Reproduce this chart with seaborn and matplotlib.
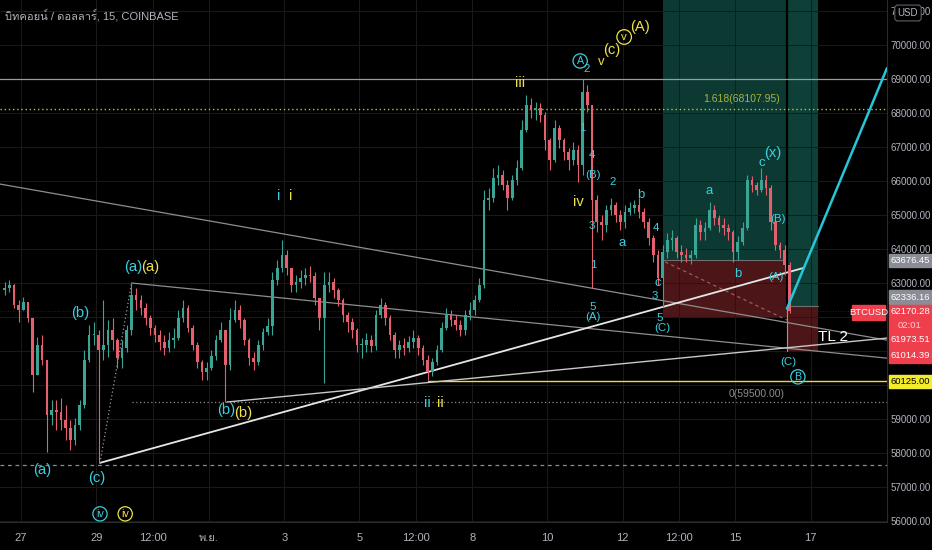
import numpy as np
import pandas as pd
import seaborn as sns
import matplotlib
matplotlib.use("Agg")
import matplotlib.pyplot as plt
from matplotlib import font_manager
from matplotlib.ft2font import FT2Font
from matplotlib.patches import Rectangle

# BTCUSD (Coinbase), read off the 15m chart and lumped into 3h candles,
# first candle starts 26 Oct 2021 12:00
first_open = 62800
closes = [62850, 62940, 62350, 62210, 62440, 61970, 60290, 61180, 60740, 59120,
          59270, 59210, 58970, 58740, 58380, 58820, 59410, 60740, 61470, 61470,
          61030, 61180, 61620, 61320, 60790, 61090, 61620, 62650, 62500, 62260,
          61970, 61680, 61470, 61270, 61090, 61320, 61380, 61970, 62260, 61680,
          61180, 60680, 60380, 60500, 60850, 61320, 61620, 60590, 61910, 62210,
          61910, 61320, 60790, 60680, 61180, 61560, 61740, 63090, 63440, 63820,
          63440, 62940, 63030, 63150, 63240, 63210, 62560, 61970, 62940, 63030,
          62790, 62500, 62060, 61850, 61620, 61180, 61180, 61320, 61150, 62060,
          62350, 61970, 61470, 61030, 61180, 61090, 61270, 61380, 61090, 60740,
          60380, 60680, 61030, 61680, 62060, 61910, 61760, 61620, 62060, 62210,
          62500, 62940, 65440, 65500, 66090, 66180, 65880, 65500, 66030, 66380,
          67500, 68240, 68090, 68150, 67940, 67210, 66620, 67560, 67210, 66850,
          66620, 66910, 66470, 68620, 68240, 65440, 64790, 64710, 65150, 65290,
          65000, 64790, 65090, 65210, 65290, 65090, 64790, 64320, 63820, 63150,
          63910, 64270, 64320, 63910, 63820, 63740, 63820, 64710, 64500, 64620,
          65150, 64910, 64710, 64620, 64500, 63910, 64210, 64620, 66030, 65880,
          65740, 66030, 65790, 64790, 64120, 63970, 63530, 62170]
highs = [63030, 63090, 62970, 62500, 62590, 62410, 61970, 61410, 61470, 60740,
         59560, 59560, 59620, 59410, 58970, 59030, 59560, 61030, 61760, 61850,
         61620, 62500, 61910, 61970, 61380, 61320, 61760, 63000, 62850, 62650,
         62410, 62060, 61760, 61620, 61470, 61560, 61680, 62210, 62500, 62350,
         61760, 61270, 60740, 60680, 61030, 61470, 61850, 61620, 62260, 62500,
         62350, 61970, 61380, 60970, 61320, 61680, 61970, 63320, 63680, 64270,
         63970, 63380, 63240, 63380, 63440, 63500, 63320, 62560, 63320, 63320,
         63150, 62850, 62560, 62150, 61970, 61680, 61380, 61530, 61470, 62210,
         62560, 62440, 62060, 61560, 61320, 61380, 61440, 61620, 61470, 61180,
         60880, 60790, 61180, 61850, 62260, 62210, 62060, 61910, 62210, 62440,
         62650, 63150, 65740, 65790, 66380, 66470, 66320, 66030, 66180, 66620,
         67790, 68530, 68440, 68320, 68290, 68030, 67260, 67790, 67650, 67260,
         66970, 67150, 67060, 69000, 68820, 68240, 65590, 65000, 65290, 65500,
         65380, 65150, 65290, 65380, 65440, 65500, 65210, 64910, 64410, 63970,
         64120, 64470, 64560, 64380, 64120, 64030, 63970, 64910, 64850, 64790,
         65380, 65290, 65000, 64910, 64740, 64560, 64380, 64790, 66180, 66150,
         65970, 66380, 66180, 65880, 64850, 64210, 64120, 63620]
lows = [62650, 62740, 62260, 61850, 62260, 61850, 59790, 60440, 60590, 58030,
        58820, 58680, 58680, 58380, 58090, 58240, 58680, 59320, 60680, 61180,
        57710, 60740, 60820, 61030, 60500, 60500, 60970, 61470, 62210, 62060,
        61760, 61470, 61270, 61030, 60880, 60970, 61090, 61320, 61850, 61560,
        61030, 60500, 60150, 60150, 60440, 60740, 61270, 59500, 60440, 61850,
        61680, 61180, 60590, 60440, 60590, 61030, 61470, 61470, 62940, 63320,
        63230, 62740, 62740, 62850, 62940, 63030, 62350, 61620, 60060, 62740,
        62560, 62320, 61850, 61560, 61380, 60970, 60790, 60970, 60970, 61030,
        61970, 61760, 61320, 60790, 60790, 60880, 60970, 61090, 60880, 60590,
        60150, 60270, 60590, 60970, 61620, 61740, 61620, 61440, 61470, 61910,
        62060, 62440, 62850, 65150, 65380, 65880, 65740, 65150, 65440, 65880,
        66320, 67440, 67850, 67790, 67740, 66910, 66320, 66560, 66970, 66620,
        66320, 66470, 65970, 66180, 68030, 62850, 64500, 64270, 64500, 65000,
        64790, 64560, 64620, 65000, 65060, 64910, 64620, 64120, 63620, 62940,
        62290, 63740, 63970, 63740, 63620, 63620, 63560, 63740, 64270, 64270,
        64560, 64710, 64500, 64410, 64270, 63620, 63680, 64120, 64560, 65680,
        65590, 65680, 65590, 64560, 63970, 63740, 63240, 62120]

tick_days = [0, 2, 3.5, 5, 7, 9, 10.5, 12, 14, 16, 17.5, 19, 21]
tick_labels = ["27", "29", "12:00", "พ.ย.", "3", "5", "12:00", "8", "10", "12", "12:00", "15", "17"]
price_ticks = list(range(56000, 72000, 1000))
hidden_ticks = [60000, 61000, 62000]   # sit under the price tags

# drawn levels
wave_top = 69000
fib_1618 = 68107.95
fib_zero = 59500.00
low_dash = 57650
support = 60125.00
last_price = 62170.28

# the two long-position boxes: (start day, end day, entry, stop)
pos1 = (17.07, 20.37, 63676.45, 61973.51)
pos2 = (20.37, 21.20, 62336.16, 61014.39)

# trend lines (day, price) endpoints
trend_grey = {"A": [(-0.56, 65910), (23.03, 61320)],
              "B": [(2.94, 63000), (23.03, 60790)]}
trend_white = {"C": [(2.10, 57710), (20.80, 63440)],
               "D": [(5.48, 59500), (23.03, 61380)]}
target_line = [(20.37, 62250), (23.03, 69320)]
ca_dotted = [(2.10, 57710), (2.94, 63000)]
stop_dash = [(17.13, 63620), (20.37, 61910)]

CY, YE = "#3bcfe0", "#efe24a"
waves = [
    (0.56, 57500, "(a)", CY, 9, False), (2.02, 57260, "(c)", CY, 9, False),
    (1.57, 62120, "(b)", CY, 9, False), (2.98, 63470, "(a)", CY, 9, False),
    (3.43, 63470, "(a)", YE, 9, False), (5.45, 59260, "(b)", CY, 9, False),
    (5.90, 59180, "(b)", YE, 9, False), (6.86, 65560, "i", CY, 9, False),
    (7.18, 65560, "i", YE, 9, False), (10.80, 59470, "ii", CY, 9, False),
    (11.14, 59470, "ii", YE, 9, False), (13.27, 68880, "iii", YE, 9, False),
    (14.81, 65380, "iv", YE, 9, False), (15.43, 69500, "v", YE, 8, False),
    (14.87, 69530, "A", CY, 6.5, True), (15.03, 69290, "2", CY, 7, False),
    (15.72, 69850, "(c)", YE, 9, False), (16.04, 70235, "v", YE, 7, True),
    (16.46, 70530, "(A)", YE, 9, False), (14.92, 67560, "1", CY, 7, False),
    (15.19, 66760, "4", CY, 7, False), (15.21, 66180, "(B)", CY, 7, False),
    (15.72, 65970, "2", CY, 7, False), (15.19, 64680, "3", CY, 7, False),
    (15.98, 64180, "a", CY, 8, False), (15.21, 63530, "1", CY, 7, False),
    (16.49, 65590, "b", CY, 8, False), (16.89, 64620, "4", CY, 7, False),
    (15.21, 62290, "5", CY, 7, False), (15.21, 62000, "(A)", CY, 7, False),
    (16.94, 63000, "c", CY, 8, False), (16.86, 62620, "3", CY, 7, False),
    (16.99, 61970, "5", CY, 7, False), (17.05, 61680, "(C)", CY, 7, False),
    (18.30, 65710, "a", CY, 8, False), (19.07, 63260, "b", CY, 8, False),
    (19.71, 66530, "c", CY, 8, False), (20.00, 66820, "(x)", CY, 9, False),
    (20.13, 64880, "(B)", CY, 7, False), (20.08, 63180, "(A)", CY, 7, False),
    (20.40, 60680, "(C)", CY, 7, False), (20.66, 60240, "B", CY, 6.5, True),
    (2.10, 56210, "iv", CY, 6.5, True), (2.77, 56210, "iv", YE, 6.5, True),
]

sns.set_style("dark", {"axes.facecolor": "#000000", "figure.facecolor": "#000000",
                       "grid.color": "#1a1a1a", "axes.edgecolor": "#2b2b2b",
                       "axes.grid": True})


def font_with(ch):
    for f in font_manager.fontManager.ttflist:
        try:
            if ord(ch) in FT2Font(f.fname).get_charmap():
                return f.name
        except Exception:
            continue
    return None


thai = font_with("บ")
plt.rcParams["font.family"] = ["Liberation Sans", "DejaVu Sans"] + ([thai] if thai else [])

W, H = 932, 550
fig = plt.figure(figsize=(W / 100, H / 100), dpi=100)
ax = fig.add_axes([0, 28 / H, 887 / W, 522 / H])
ax.set_xlim(-0.559, 23.03)
ax.set_ylim(55971, 71323)

# candles
t0 = pd.Timestamp("2021-10-27")
times = pd.date_range("2021-10-26 12:00", periods=len(closes), freq="3h")
df = pd.DataFrame({"day": (times - t0) / pd.Timedelta(days=1) + 1 / 16,
                   "open": [first_open] + closes[:-1], "close": closes,
                   "high": highs, "low": lows})
up = df["close"] >= df["open"]
col = np.where(up, "#3aa595", "#e5606f")
top = np.maximum.reduce([df["high"], df["open"], df["close"]])
bot = np.minimum.reduce([df["low"], df["open"], df["close"]])
ax.vlines(df["day"], bot, top, colors=col, lw=0.8, zorder=3)
body = np.maximum((df["close"] - df["open"]).abs(), 30)
ax.bar(df["day"], body, bottom=np.minimum(df["open"], df["close"]), width=0.07,
       color=col, lw=0, zorder=3)

# position boxes
for (x0, x1, entry, stop), g in [(pos1, "#0c3a33"), (pos2, "#0f4038")]:
    ax.add_patch(Rectangle((x0, entry), x1 - x0, 71323 - entry, fc=g, ec="none", zorder=0.5))
    ax.add_patch(Rectangle((x0, stop), x1 - x0, entry - stop, fc="#4c1618", ec="none", zorder=0.5))
    ax.plot([x0, x1], [entry, entry], color="#6f6f6f", lw=0.8, zorder=1)
ax.plot([pos1[1], pos1[1]], [pos2[2], 71323], color="#000000", lw=1.6, zorder=2)
ax.plot([pos1[1], pos1[1]], [pos2[3], pos2[2]], color="#9a9a9a", lw=0.8, zorder=2)

# levels
ax.axhline(wave_top, color="#9b9b9b", lw=0.9, zorder=2)
ax.axhline(fib_1618, color="#b5c23a", lw=1.0, ls=(0, (1, 2)), zorder=2)
ax.axhline(low_dash, color="#8c8c8c", lw=0.9, ls=(0, (3, 3)), zorder=2)
ax.axhline(last_price, color="#4a2222", lw=0.6, ls=(0, (1, 2)), zorder=1)
ax.plot([2.94, 23.03], [fib_zero, fib_zero], color="#8c8c8c", lw=0.9, ls=(0, (1, 2)), zorder=2)
ax.plot([10.82, 23.03], [support, support], color="#e6df3a", lw=1.0, zorder=2)
ax.text(19.17, fib_1618 + 290, "1.618(68107.95)", color="#a8b43a", fontsize=7.5,
        ha="center", va="center")
ax.text(19.55, fib_zero + 250, "0(59500.00)", color="#8c8c8c", fontsize=7.5,
        ha="center", va="center")

# trend lines
rows = [(k, d, p) for k, pts in trend_grey.items() for d, p in pts]
tg = pd.DataFrame(rows, columns=["line", "day", "price"])
sns.lineplot(data=tg, x="day", y="price", units="line", estimator=None, color="#8e8e8e",
             lw=0.9, ax=ax, zorder=2)
rows = [(k, d, p) for k, pts in trend_white.items() for d, p in pts]
tw = pd.DataFrame(rows, columns=["line", "day", "price"])
sns.lineplot(data=tw[tw.line == "C"], x="day", y="price", color="#e6e6e6", lw=1.3, ax=ax, zorder=2)
sns.lineplot(data=tw[tw.line == "D"], x="day", y="price", color="#c8c8c8", lw=1.0, ax=ax, zorder=2)
ax.plot(*zip(*ca_dotted), color="#9a9a9a", lw=0.9, ls=(0, (1, 2)), zorder=2)
ax.plot(*zip(*stop_dash), color="#b06060", lw=0.8, ls=(0, (3, 3)), zorder=2)
ax.plot(*zip(*target_line), color="#26c6da", lw=1.8, zorder=4, clip_on=True)

# wave labels (Liberation Sans runs small, so bump the sizes a little)
for d, p, txt, c, s, circ in waves:
    kw = {}
    if circ:
        kw["bbox"] = dict(boxstyle="circle,pad=0.2", fc="none", ec=c, lw=0.9)
    ax.text(d, p, txt, color=c, fontsize=s * 1.18, ha="center", va="center", zorder=6, **kw)
ax.text(21.60, 61410, "TL 2", color="white", fontsize=11, ha="center", va="center", zorder=6)

# axes
ax.set_xticks(tick_days)
ax.set_xticklabels(tick_labels)
ax.set_yticks(price_ticks)
ax.set_yticklabels(["" if v in hidden_ticks else f"{v:.2f}" for v in price_ticks])
ax.yaxis.tick_right()
ax.tick_params(axis="x", colors="#b2b5be", labelsize=8, length=0, pad=8)
ax.tick_params(axis="y", colors="#b2b5be", labelsize=7, length=0, pad=2.5)
ax.grid(True, color="#1a1a1a", lw=0.7)
ax.set_xlabel("")
ax.set_ylabel("")
for s in ["top", "left"]:
    ax.spines[s].set_visible(False)
for s in ["right", "bottom"]:
    ax.spines[s].set_color("#2b2b2b")

fig.text(5 / W, 1 - 15 / H, "บิทคอยน์ / ดอลลาร์, 15, COINBASE", color="#b2b5be",
         fontsize=8, ha="left", va="center")


def box(x0, y0, x1, y1, fc):
    fig.patches.append(Rectangle((x0 / W, 1 - y1 / H), (x1 - x0) / W, (y1 - y0) / H,
                                 transform=fig.transFigure, fc=fc, ec=fc, zorder=10))


def tag(y, txt, tc="white"):
    fig.text(910 / W, 1 - y / H, txt, color=tc, fontsize=6.8, ha="center",
             va="center", zorder=11)


box(889, 254, 932, 267, "#8a8d96")
tag(260.5, "63676.45")
box(889, 290, 932, 304, "#8a8d96")
tag(297, "62336.16")
box(889, 305, 932, 363, "#ef3f4c")
tag(312, "62170.28")
tag(325, "02:01", "#ffd0d0")
tag(340, "61973.51")
tag(356, "61014.39")
box(889, 375, 932, 388, "#f3ec2c")
tag(381.5, "60125.00", "#000000")
box(852, 305, 885, 320, "#ef3f4c")
fig.text(868.5 / W, 1 - 312.5 / H, "BTCUSD", color="white", fontsize=6.8, ha="center",
         va="center", zorder=11)
fig.text(908 / W, 1 - 13 / H, "USD", color="#b2b5be", fontsize=7, ha="center",
         va="center", zorder=11,
         bbox=dict(boxstyle="round,pad=0.3", fc="#000000", ec="#5d606b", lw=0.8))

fig.savefig("out.png", dpi=100, facecolor="#000000")
